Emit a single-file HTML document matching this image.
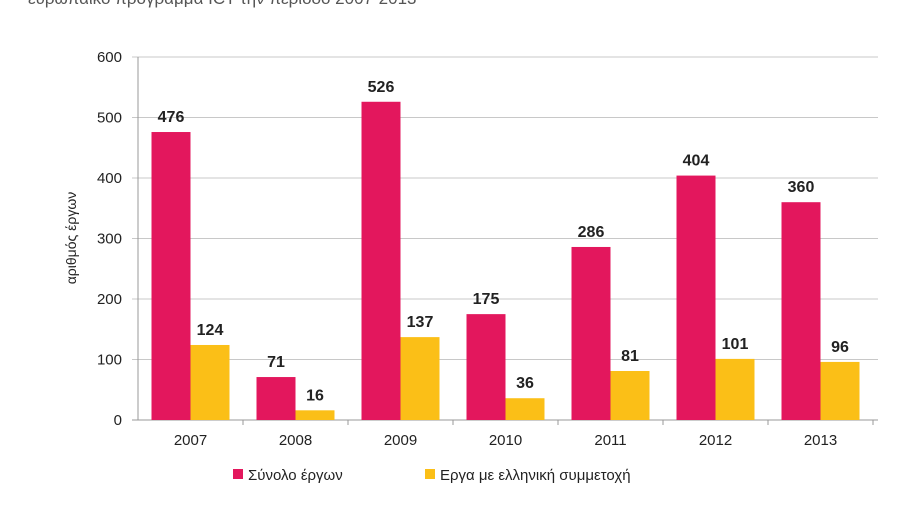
<!DOCTYPE html>
<html><head><meta charset="utf-8"><style>
body{margin:0;background:#fff;width:900px;height:500px;overflow:hidden;font-family:"Liberation Sans",sans-serif;}
</style></head><body>
<svg width="900" height="500" font-family="Liberation Sans, sans-serif">
<text x="28" y="4" font-size="17" fill="#555">ευρωπαϊκό πρόγραμμα ICT την περίοδο 2007-2013</text>
<text transform="translate(76,238) rotate(-90)" text-anchor="middle" font-size="14" fill="#222">αριθμός έργων</text>
<g id="grid"></g><g id="bars"></g><g id="labels"></g>
<g>
<rect x="233" y="469" width="10" height="10" fill="#e3175d"/>
<text x="248" y="480" font-size="15" fill="#222">Σύνολο έργων</text>
<rect x="425" y="469" width="10" height="10" fill="#fbbf17"/>
<text x="440" y="480" font-size="15" fill="#222">Εργα με ελληνική συμμετοχή</text>
</g>
</svg>
<script>
const categories=["2007","2008","2009","2010","2011","2012","2013"];
const totalValues=[476,71,526,175,286,404,360];
const greekValues=[124,16,137,36,81,101,96];
const yTicks=[0,100,200,300,400,500,600];
const NS="http://www.w3.org/2000/svg";
const x0=138,band=105,yBase=420,yTop=57,yMax=600;
const y=v=>yBase-(yBase-yTop)*v/yMax;
const xc=i=>x0+band*i+band/2;
function mk(t,a,p){const e=document.createElementNS(NS,t);for(const k in a)e.setAttribute(k,a[k]);p.appendChild(e);return e;}
const grid=document.getElementById('grid'),bars=document.getElementById('bars'),labels=document.getElementById('labels');
yTicks.forEach(t=>{
 const l=mk('line',{x1:132,x2:878,y1:y(t),y2:y(t),stroke:t===0?'#999':'#c8c8c8','stroke-width':1},grid);
 
 
 const tx=mk('text',{x:122,y:y(t)+5,'text-anchor':'end','font-size':15,fill:'#222'},grid);
 tx.textContent=t;
 
 
});
mk('line',{x1:x0,x2:x0,y1:yTop,y2:yBase,stroke:'#999'},grid);
categories.forEach((c,i)=>{
 const tk=mk('line',{x1:x0+band*(i+1),x2:x0+band*(i+1),y1:yBase,y2:yBase+5,stroke:'#999'},grid);
 
 
 const t=mk('text',{x:xc(i),y:yBase+25,'text-anchor':'middle','font-size':15,fill:'#222'},labels);
 t.textContent=c;
 
 
 [[totalValues[i],'#e3175d',-39,'bar-total-'+c],[greekValues[i],'#fbbf17',0,'bar-greek-'+c]].forEach(([v,col,off,nm])=>{
  const r=mk('rect',{x:xc(i)+off,y:y(v),width:39,height:yBase-y(v),fill:col},bars);
  
  
  const vl=mk('text',{x:xc(i)+off+19.5,y:y(v)-10,'text-anchor':'middle','font-size':16,'font-weight':'bold',fill:'#222'},labels);
  vl.textContent=v;
  
  
 });
});
</script>
</body></html>
